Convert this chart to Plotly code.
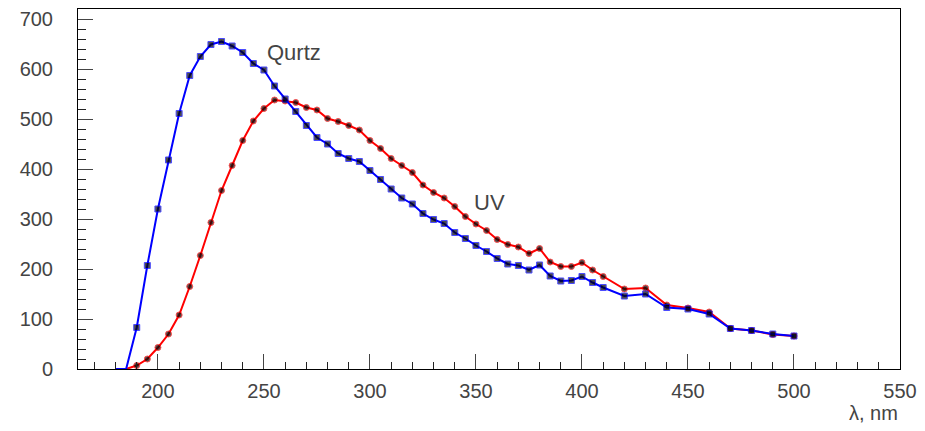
import plotly.graph_objects as go

wavelength = [180, 185, 190, 195, 200, 205, 210, 215, 220, 225, 230, 235, 240, 245,
              250, 255, 260, 265, 270, 275, 280, 285, 290, 295, 300, 305, 310, 315,
              320, 325, 330, 335, 340, 345, 350, 355, 360, 365, 370, 375, 380, 385,
              390, 395, 400, 405, 410, 420, 430, 440, 450, 460, 470, 480, 490, 500]

quartz = [0, 0, 83, 207, 320, 418, 511, 587, 625, 649, 655, 646, 633, 611,
          598, 566, 540, 515, 487, 463, 450, 431, 421, 415, 397, 379, 360, 342,
          330, 311, 299, 291, 273, 261, 247, 235, 221, 210, 207, 198, 208, 186,
          176, 177, 185, 173, 163, 146, 150, 123, 120, 110, 81, 77, 70, 66]

uv = [0, 0, 7, 20, 43, 70, 108, 165, 227, 293, 357, 407, 457, 496,
      521, 538, 536, 533, 523, 518, 501, 495, 487, 478, 457, 441, 421, 407,
      393, 368, 353, 342, 325, 305, 290, 277, 259, 249, 244, 231, 241, 214,
      205, 205, 213, 198, 185, 160, 162, 128, 122, 114, 81, 77, 69, 66]

labels = {"Qurtz": (264, 634), "UV": (356.5, 334)}

FONT = "Liberation Sans, Arial, sans-serif"
TXT = "#444444"

fig = go.Figure()
fig.add_trace(go.Scatter(
    x=wavelength, y=uv, mode="lines+markers", name="UV",
    line=dict(color="#ff0000", width=2),
    marker=dict(symbol="circle", color="black",
                size=[0 if v == 0 else 6 for v in uv]),
    cliponaxis=True, showlegend=False))
fig.add_trace(go.Scatter(
    x=wavelength, y=quartz, mode="lines+markers", name="Qurtz",
    line=dict(color="#0000ff", width=2),
    marker=dict(symbol="square", color="black",
                size=[0 if v == 0 else 6 for v in quartz]),
    cliponaxis=True, showlegend=False))

for txt, (lx, ly) in labels.items():
    fig.add_annotation(x=lx, y=ly, text=txt, showarrow=False,
                       font=dict(family=FONT, size=22, color=TXT),
                       xanchor="center", yanchor="middle")

fig.add_annotation(x=1, y=-0.122, xref="paper", yref="paper", text="λ, nm",
                   showarrow=False, xanchor="right", yanchor="middle",
                   font=dict(family=FONT, size=20, color=TXT))

fig.update_xaxes(range=[162.3, 550], tickvals=[200, 250, 300, 350, 400, 450, 500, 550],
                 ticks="inside", ticklen=15, tickwidth=1, tickcolor="#444",
                 minor=dict(dtick=10, tick0=0, ticks="inside", ticklen=7, tickcolor="#222"),
                 showline=True, linecolor="black", linewidth=1, mirror=True,
                 showgrid=False, zeroline=False, ticklabelstandoff=4,
                 tickfont=dict(family=FONT, size=20, color=TXT))
fig.update_yaxes(range=[0, 720], tickvals=[0, 100, 200, 300, 400, 500, 600, 700],
                 ticks="inside", ticklen=15, tickwidth=1, tickcolor="#444",
                 minor=dict(dtick=20, tick0=0, ticks="inside", ticklen=8, tickcolor="#222"),
                 showline=True, linecolor="black", linewidth=1, mirror=True,
                 showgrid=False, zeroline=False, ticklabelstandoff=20,
                 tickfont=dict(family=FONT, size=20, color=TXT))

fig.update_layout(width=925, height=431, margin=dict(l=78, r=25, t=9, b=62),
                  plot_bgcolor="white", paper_bgcolor="white")

fig.write_html("out.html")
